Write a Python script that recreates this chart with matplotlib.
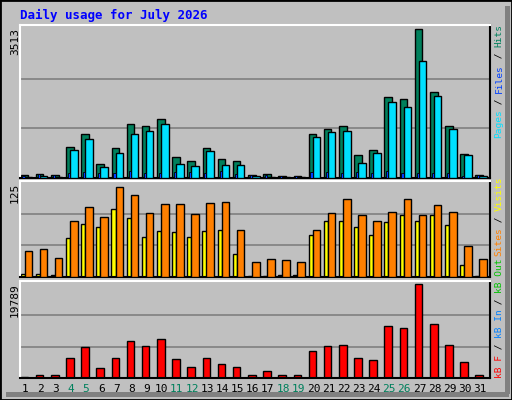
import matplotlib
matplotlib.use("Agg")
import matplotlib.pyplot as plt
from matplotlib.patches import Rectangle
import numpy as np

days = list(range(1, 32))
weekend = [4, 5, 11, 12, 18, 19, 25, 26]
hits = [72, 96, 72, 740, 1050, 335, 720, 1270, 1220, 1390, 500, 400, 720, 450, 400,
        72, 96, 48, 48, 1030, 1170, 1220, 550, 670, 1910, 1860, 3513, 2030, 1240, 570, 72]
files = [24, 48, 24, 670, 930, 260, 600, 1050, 1100, 1270, 335, 290, 650, 310, 310,
         48, 24, 24, 24, 960, 1080, 1120, 360, 600, 1790, 1670, 2770, 1940, 1150, 550, 48]
pages = [40, 100, 60, 110, 150, 110, 110, 170, 110, 130, 150, 150, 130, 170, 100,
         60, 60, 40, 40, 150, 150, 130, 150, 110, 160, 130, 110, 110, 110, 40, 60]
sites = [34, 37, 25, 74, 92, 79, 119, 108, 84, 96, 96, 83, 97, 99, 62,
         20, 24, 22, 20, 62, 84, 103, 81, 73, 86, 103, 81, 95, 86, 41, 24]
visits = [4, 4, 2, 51, 70, 66, 90, 77, 52, 60, 59, 53, 61, 62, 30,
          1, 1, 3, 3, 55, 73, 74, 66, 55, 72, 81, 74, 82, 69, 16, 1]
kbf = [250, 580, 580, 4190, 6570, 2020, 4190, 7870, 6790, 8300, 3970, 2240, 4190, 2890, 2240,
       580, 1370, 580, 580, 5700, 6790, 7000, 4190, 3750, 10900, 10470, 19789, 11330, 7000, 3320, 580]

BG = "#c0c0c0"
W, H = 512, 400
fig = plt.figure(figsize=(5.12, 4.0), dpi=100, facecolor=BG)

def px(x, y):
    return x / W, 1 - y / H

fig.patches.append(Rectangle((0, 0), 1, 1, transform=fig.transFigure, fill=False, edgecolor="black", lw=2))
fig.patches.append(Rectangle((505/W, 6/H), 5/W, 1 - 12/H, transform=fig.transFigure, facecolor="#808080", edgecolor="none"))
fig.patches.append(Rectangle((6/W, 3/H), 1 - 9/W, 5/H, transform=fig.transFigure, facecolor="#808080", edgecolor="none"))

def mkax(y0, y1):
    l, b = px(20, y1)
    ax = fig.add_axes([l, b, 470 / W, (y1 - y0) / H])
    ax.set_facecolor(BG)
    ax.set_xlim(0.45, 31.45)
    ax.set_xticks([]); ax.set_yticks([])
    for s in ax.spines.values():
        s.set_color("black"); s.set_linewidth(1.5)
    ax.spines["left"].set_color("white"); ax.spines["top"].set_color("white")
    return ax

d = np.array(days)
ax1 = mkax(25, 178)
ax1.set_ylim(0, 3513 * 1.03)
for g in (3513/3, 2*3513/3):
    ax1.axhline(g, color="#808080", lw=1.2, zorder=0)
ax1.bar(d - 0.26, hits, width=0.5, color="#00805c", edgecolor="black", lw=1, zorder=2)
ax1.bar(d + 0.0, files, width=0.5, color="#00e0ff", edgecolor="black", lw=1, zorder=3)
ax1.bar(d - 0.32, pages, width=0.14, color="#0040ff", edgecolor="black", lw=0.6, zorder=4)

ax2 = mkax(181, 277)
ax2.set_ylim(0, 125 * 1.01)
for g in (125/3, 2*125/3):
    ax2.axhline(g, color="#808080", lw=1.2, zorder=0)
ax2.bar(d - 0.38, visits, width=0.27, color="#ffff00", edgecolor="black", lw=1, zorder=2)
ax2.bar(d + 0.0, sites, width=0.5, color="#ff8000", edgecolor="black", lw=1, zorder=3)

ax3 = mkax(281, 378)
ax3.set_ylim(0, 19789 * 1.03)
for g in (19789/3, 2*19789/3):
    ax3.axhline(g, color="#808080", lw=1.2, zorder=0)
ax3.bar(d - 0.26, kbf, width=0.5, color="#ff0000", edgecolor="black", lw=1, zorder=2)

for dd in days:
    x = (20 + (dd - 0.45) * 470 / 31 - 3) / W
    fig.text(x, 1 - 389 / H, str(dd), ha="center", va="center", fontsize=8,
             family="DejaVu Sans Mono", color="#00805c" if dd in weekend else "black")

fig.text(*px(20, 15), "Daily usage for July 2026", color="#0000ff", fontsize=9,
         fontweight="bold", family="DejaVu Sans Mono", va="center")
for y, t in ((28, "3513"), (183, "125"), (283, "19789")):
    fig.text(*px(15, y), t, rotation=90, ha="center", va="top", fontsize=8, family="DejaVu Sans Mono")

FS = 6.8
CH = 0.602 * FS * 100 / 72
def vlabel(ybottom, parts):
    y = ybottom
    for t, c in parts:
        fig.text(*px(499, y), t, rotation=90, ha="center", va="bottom", fontsize=FS,
                 family="DejaVu Sans Mono", color=c)
        y -= CH * len(t)

vlabel(138, [("Pages", "#00e0ff"), (" / ", "black"), ("Files", "#0040ff"), (" / ", "black"), ("Hits", "#00805c")])
vlabel(256, [("Sites", "#ff8000"), (" / ", "black"), ("Visits", "#ffff00")])
vlabel(378, [("kB F", "#ff0000"), (" / ", "black"), ("kB In", "#0080ff"), (" / ", "black"), ("kB Out", "#00c000")])

fig.savefig("out.png", dpi=100, facecolor=BG)
